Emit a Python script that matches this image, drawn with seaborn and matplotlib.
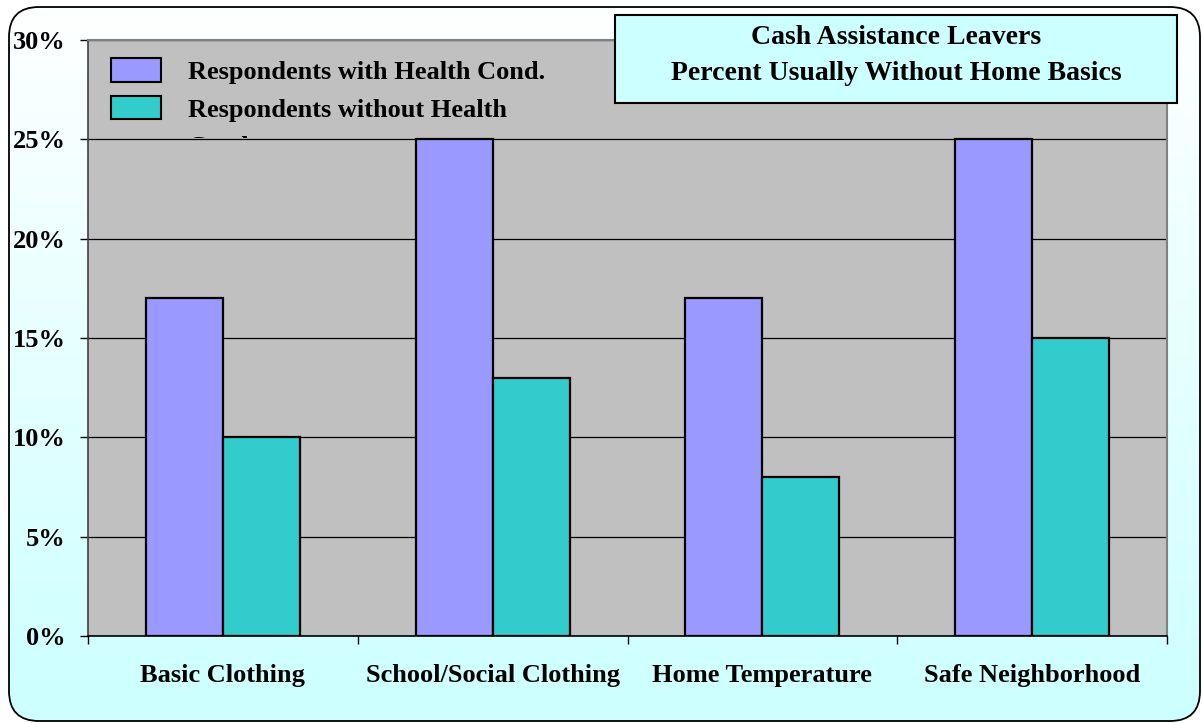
import matplotlib
matplotlib.use("Agg")
import matplotlib.pyplot as plt
import seaborn as sns
import numpy as np
import pandas as pd
from matplotlib.patches import FancyBboxPatch, Patch
from matplotlib.transforms import Bbox, TransformedBbox
from matplotlib.colors import LinearSegmentedColormap
from matplotlib.ticker import FuncFormatter, FixedLocator

# ---- data ----
categories = ["Basic Clothing", "School/Social Clothing", "Home Temperature", "Safe Neighborhood"]
series_names = ["Respondents with Health Cond.", "Respondents without Health Cond."]
with_health = [17, 25, 17, 25]
without_health = [10, 13, 8, 15]
yticks = [0, 5, 10, 15, 20, 25, 30]
title_lines = ["Cash Assistance Leavers", "Percent Usually Without Home Basics"]
legend_labels = ["Respondents with Health Cond.", "Respondents without Health", "Cond."]

colors = ["#9999FF", "#33CCCC"]

df = pd.DataFrame({
    "category": categories * 2,
    "series": [series_names[0]] * 4 + [series_names[1]] * 4,
    "value": with_health + without_health,
})

sns.set_theme(style="white")
plt.rcParams["font.family"] = ["Liberation Serif", "DejaVu Serif"]
plt.rcParams["font.weight"] = "bold"
for k in ["text.color", "axes.labelcolor", "xtick.color", "ytick.color"]:
    plt.rcParams[k] = "black"

W, H = 1202, 723
fig = plt.figure(figsize=(W / 100, H / 100), dpi=100)
fig.patch.set_facecolor("white")

# ---- background rounded frame with gradient ----
bg = fig.add_axes([0, 0, 1, 1], zorder=-10)
bg.set_xlim(0, W)
bg.set_ylim(0, H)
bg.axis("off")
cmap = LinearSegmentedColormap.from_list("g", ["#CCFFFF", "#FFFFFF"])
grad = np.linspace(0, 1, 256).reshape(-1, 1)
im = bg.imshow(grad, extent=[0, W, 0, H], origin="lower", cmap=cmap, aspect="auto")
frame = FancyBboxPatch((9, 2), 1191, 714, boxstyle="round,pad=0,rounding_size=30",
                       facecolor="none", edgecolor="black", lw=1.3)
bg.add_patch(frame)
im.set_clip_path(frame)

# ---- main axes ----
ax = fig.add_axes([88 / W, (H - 636) / H, (1167 - 88) / W, (636 - 40) / H])
ax.set_facecolor("#C0C0C0")
sns.barplot(data=df, x="category", y="value", hue="series", order=categories,
            hue_order=series_names, palette=colors, width=0.57, saturation=1,
            edgecolor="black", linewidth=1.6, ax=ax, legend=False)

ax.set_xlim(-0.5, 3.5)
ax.set_ylim(0, 30)
ax.set_yticks(yticks)
ax.yaxis.set_major_formatter(FuncFormatter(lambda v, p: f"{int(v)}%"))
ax.set_axisbelow(True)
ax.yaxis.grid(True, color="black", lw=0.9)
ax.set_xlabel("")
ax.set_ylabel("")

ax.tick_params(axis="y", which="major", direction="out", length=6, width=1,
               color="black", pad=10, labelsize=19, left=True, labelcolor="black")
ax.tick_params(axis="x", which="major", length=0, pad=20, labelsize=19, bottom=True,
               labelcolor="black")
ax.xaxis.set_minor_locator(FixedLocator([-0.5, 0.5, 1.5, 2.5, 3.5]))
ax.tick_params(axis="x", which="minor", direction="out", length=6, width=1,
               color="black", bottom=True)
for lab in ax.get_xticklabels() + ax.get_yticklabels():
    lab.set_fontweight("bold")

ax.spines["left"].set_color("#404040")
ax.spines["left"].set_linewidth(1.2)
ax.spines["bottom"].set_color("black")
ax.spines["bottom"].set_linewidth(1.2)
ax.spines["right"].set_color("#808080")
ax.spines["right"].set_linewidth(1.5)
ax.spines["top"].set_color("#808080")
ax.spines["top"].set_linewidth(1.5)

# ---- legend ----
handles = [Patch(facecolor=colors[0], edgecolor="black", lw=1.5),
           Patch(facecolor=colors[1], edgecolor="black", lw=1.5),
           Patch(facecolor="none", edgecolor="none")]
leg = ax.legend(handles, legend_labels, loc="upper left",
                bbox_to_anchor=(111 / W, (H - 58) / H), bbox_transform=fig.transFigure,
                frameon=False, borderpad=0, borderaxespad=0,
                handlelength=1.9, handleheight=1.0, handletextpad=1.0,
                labelspacing=0.45, prop={"size": 19, "weight": "bold"})
clip = TransformedBbox(Bbox([[0, (H - 137.5) / H], [1, 1]]), fig.transFigure)
for t in leg.get_texts():
    t.set_color("black")
    t.set_clip_on(True)
    t.set_clip_box(clip)

# ---- title box ----
tb = FancyBboxPatch((615, H - 103), 562, 88, boxstyle="square,pad=0",
                    facecolor="#CCFFFF", edgecolor="black", lw=1.5, zorder=5)
bg2 = fig.add_axes([0, 0, 1, 1], zorder=10)
bg2.set_xlim(0, W)
bg2.set_ylim(0, H)
bg2.axis("off")
bg2.add_patch(tb)
bg2.text(896, H - 44, title_lines[0], ha="center", va="baseline", fontsize=20,
         fontweight="bold", color="black", zorder=6)
bg2.text(896, H - 80, title_lines[1], ha="center", va="baseline", fontsize=20,
         fontweight="bold", color="black", zorder=6)

fig.savefig("out.png", dpi=100)
